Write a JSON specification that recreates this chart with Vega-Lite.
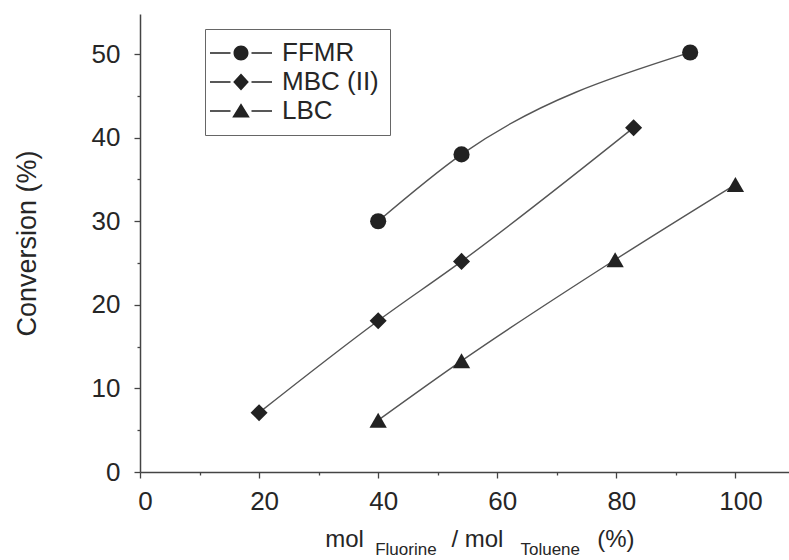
{
  "$schema": "https://vega.github.io/schema/vega-lite/v6.json",
  "width": 649,
  "height": 458,
  "autosize": {"type": "none"},
  "padding": {"left": 140, "top": 14, "right": 0, "bottom": 88},
  "background": "#ffffff",
  "config": {
    "view": {"stroke": null},
    "font": "Liberation Sans",
    "axis": {
      "grid": false,
      "domainColor": "#444444",
      "domainWidth": 1.5,
      "tickColor": "#444444",
      "tickWidth": 1.3,
      "labelFont": "Liberation Sans",
      "labelFontSize": 26,
      "labelColor": "#262626",
      "titleFont": "Liberation Sans",
      "titleColor": "#262626",
      "titleFontWeight": "normal"
    }
  },
  "data": {
    "values": [
      {"series": "FFMR", "x": 40, "y": 30.0},
      {"series": "FFMR", "x": 54, "y": 38.0},
      {"series": "FFMR", "x": 92.4, "y": 50.2},
      {"series": "MBC (II)", "x": 20, "y": 7.1},
      {"series": "MBC (II)", "x": 40, "y": 18.1},
      {"series": "MBC (II)", "x": 54, "y": 25.2},
      {"series": "MBC (II)", "x": 82.9, "y": 41.2},
      {"series": "LBC", "x": 40, "y": 6.2},
      {"series": "LBC", "x": 54, "y": 13.3},
      {"series": "LBC", "x": 79.8, "y": 25.4},
      {"series": "LBC", "x": 100, "y": 34.4}
    ]
  },
  "layer": [
    {
      "mark": {"type": "line", "interpolate": "monotone", "color": "#555555", "strokeWidth": 1.4},
      "encoding": {
        "x": {
          "field": "x", "type": "quantitative",
          "scale": {"domain": [0, 109], "nice": false, "zero": false},
          "axis": {
            "title": null,
            "values": [0, 10, 20, 30, 40, 50, 60, 70, 80, 90, 100],
            "labelExpr": "datum.value % 20 === 0 ? datum.label : ''",
            "tickSize": {"condition": {"test": "datum.value % 20 === 0", "value": 6}, "value": 3},
            "labelPadding": 10,
            "labelOffset": 5,
            "labelFlush": false
          }
        },
        "y": {
          "field": "y", "type": "quantitative",
          "scale": {"domain": [0, 54.8], "nice": false},
          "axis": {
            "title": "Conversion (%)",
            "titleFontSize": 27,
            "titlePadding": 50,
            "values": [0, 5, 10, 15, 20, 25, 30, 35, 40, 45, 50],
            "labelExpr": "datum.value % 10 === 0 ? datum.label : ''",
            "tickSize": {"condition": {"test": "datum.value % 10 === 0", "value": 6}, "value": 3},
            "labelPadding": 14,
            "labelFlush": false
          }
        },
        "detail": {"field": "series", "type": "nominal"}
      }
    },
    {
      "transform": [{"filter": "datum.series === 'FFMR'"}],
      "mark": {"type": "point", "shape": "circle", "filled": true, "color": "#222222", "opacity": 1, "size": 260},
      "encoding": {
        "x": {"field": "x", "type": "quantitative"},
        "y": {"field": "y", "type": "quantitative"}
      }
    },
    {
      "transform": [{"filter": "datum.series === 'MBC (II)'"}],
      "mark": {"type": "point", "shape": "diamond", "filled": true, "color": "#222222", "opacity": 1, "size": 290},
      "encoding": {
        "x": {"field": "x", "type": "quantitative"},
        "y": {"field": "y", "type": "quantitative"}
      }
    },
    {
      "transform": [{"filter": "datum.series === 'LBC'"}],
      "mark": {"type": "point", "shape": "triangle-up", "filled": true, "color": "#222222", "opacity": 1, "size": 300},
      "encoding": {
        "x": {"field": "x", "type": "quantitative"},
        "y": {"field": "y", "type": "quantitative"}
      }
    },
    {
      "mark": {"type": "point", "filled": true, "color": "#222222", "opacity": 0},
      "encoding": {
        "x": {"field": "x", "type": "quantitative"},
        "y": {"field": "y", "type": "quantitative"},
        "shape": {
          "field": "series", "type": "nominal",
          "scale": {
            "domain": ["FFMR", "MBC (II)", "LBC"],
            "range": [
              "M-3.1,-0.065L-1.05,-0.065L-1.05,0.065L-3.1,0.065ZM1.05,-0.065L3.1,-0.065L3.1,0.065L1.05,0.065ZM-0.75,0A0.75,0.75,0,1,1,0.75,0A0.75,0.75,0,1,1,-0.75,0Z",
              "M-3.1,-0.065L-1.05,-0.065L-1.05,0.065L-3.1,0.065ZM1.05,-0.065L3.1,-0.065L3.1,0.065L1.05,0.065ZM0,-0.85L0.78,0L0,0.85L-0.78,0Z",
              "M-3.1,-0.065L-1.05,-0.065L-1.05,0.065L-3.1,0.065ZM1.05,-0.065L3.1,-0.065L3.1,0.065L1.05,0.065ZM0,-0.78L0.88,0.66L-0.88,0.66Z"
            ]
          },
          "legend": {
            "title": null,
            "orient": "none",
            "legendX": 65,
            "legendY": 15,
            "padding": 11,
            "strokeColor": "#666666",
            "fillColor": "#ffffff",
            "symbolSize": 400,
            "symbolOffset": 12,
            "labelOffset": 28,
            "labelFont": "Liberation Sans",
            "labelFontSize": 26,
            "labelColor": "#262626",
            "rowPadding": 3,
            "labelLimit": 300,
            "encode": {
              "symbols": {
                "update": {
                  "fill": {"value": "#2a2a2a"},
                  "fillOpacity": {"value": 1},
                  "opacity": {"value": 1},
                  "size": {"value": 400}
                }
              }
            }
          }
        }
      }
    },
    {
      "data": {"values": [{}]},
      "mark": {"type": "text", "text": "mol", "align": "left", "baseline": "alphabetic", "fontSize": 24, "color": "#262626", "font": "Liberation Sans"},
      "encoding": {"x": {"datum": 31.1, "type": "quantitative"}, "y": {"datum": -8.97, "type": "quantitative"}}
    },
    {
      "data": {"values": [{}]},
      "mark": {"type": "text", "text": "Fluorine", "align": "left", "baseline": "alphabetic", "fontSize": 17, "color": "#262626", "font": "Liberation Sans"},
      "encoding": {"x": {"datum": 39.5, "type": "quantitative"}, "y": {"datum": -9.93, "type": "quantitative"}}
    },
    {
      "data": {"values": [{}]},
      "mark": {"type": "text", "text": "/ mol", "align": "left", "baseline": "alphabetic", "fontSize": 24, "color": "#262626", "font": "Liberation Sans"},
      "encoding": {"x": {"datum": 52.3, "type": "quantitative"}, "y": {"datum": -8.97, "type": "quantitative"}}
    },
    {
      "data": {"values": [{}]},
      "mark": {"type": "text", "text": "Toluene", "align": "left", "baseline": "alphabetic", "fontSize": 17, "color": "#262626", "font": "Liberation Sans"},
      "encoding": {"x": {"datum": 63.9, "type": "quantitative"}, "y": {"datum": -9.93, "type": "quantitative"}}
    },
    {
      "data": {"values": [{}]},
      "mark": {"type": "text", "text": "(%)", "align": "left", "baseline": "alphabetic", "fontSize": 24, "color": "#262626", "font": "Liberation Sans"},
      "encoding": {"x": {"datum": 76.8, "type": "quantitative"}, "y": {"datum": -8.97, "type": "quantitative"}}
    }
  ]
}
